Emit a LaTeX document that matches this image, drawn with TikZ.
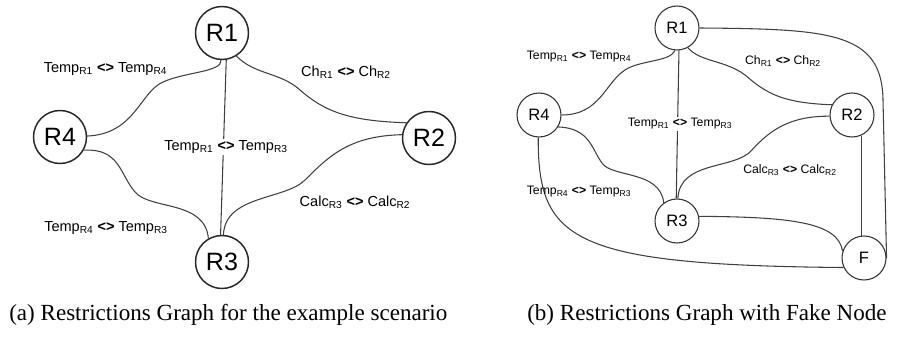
\documentclass[tikz,border=0pt]{standalone}
\usepackage{fontspec}
\setmainfont{Liberation Serif}
\newfontfamily\arialf{Liberation Sans}
\newcommand\lsub[1]{\textsubscript{#1}}
\newcommand\lne{\textbf{<>}}
\begin{document}
\begin{tikzpicture}[x=0.75pt,y=-0.75pt,
  bignode/.style={circle,draw=black!85,line width=1.1pt,fill=white,minimum size=39.75pt,inner sep=0pt,font=\arialf\fontsize{18.8}{20}\selectfont},
  smallnode/.style={circle,draw=black!80,line width=0.8pt,fill=white,minimum size=33pt,inner sep=0pt,font=\arialf\fontsize{12.4}{14}\selectfont},
  edge/.style={draw=black!75,line width=0.8pt},
  biglab/.style={inner sep=1pt,font=\arialf\fontsize{10.9}{12}\selectfont},
  smalllab/.style={inner sep=1pt,font=\arialf\fontsize{9.2}{11}\selectfont},
  captext/.style={inner sep=0pt,font=\fontsize{17.3}{19}\selectfont}]
\useasboundingbox (0,0) rectangle (902,338);
% ---------- (a) ----------
\node[bignode] (a1) at (222,33) {R1};
\node[bignode] (a4) at (60,137) {R4};
\node[bignode] (a2) at (429,138) {R2};
\node[bignode] (a3) at (222,262) {R3};
\path[edge] (a1.-92) .. controls (222,72) and (185,72) .. (163,82)
   .. controls (140,92) and (135,134) .. (a4.2);
\path[edge] (a1.-58) .. controls (255,75) and (280,72) .. (300,90)
   .. controls (325,112) and (350,121) .. (a2.146);
\path[edge] (a1.-81) -- (a3.93);
\path[edge] (a4.-29) .. controls (120,148) and (120,175) .. (135,192)
   .. controls (150,210) and (205,200) .. (a3.120);
\path[edge] (a2.173) .. controls (350,136) and (330,155) .. (305,180)
   .. controls (285,200) and (225,195) .. (a3.87);
\node[biglab] (la1) at (105.5,69) {Temp\lsub{R1} \lne{} Temp\lsub{R4}};
\node[biglab] (la2) at (346,72) {Ch\lsub{R1} \lne{} Ch\lsub{R2}};
\node[biglab,fill=white] (la3) at (226,147) {Temp\lsub{R1} \lne{} Temp\lsub{R3}};
\node[biglab] (la4) at (355,202) {Calc\lsub{R3} \lne{} Calc\lsub{R2}};
\node[biglab] (la5) at (106,228) {Temp\lsub{R4} \lne{} Temp\lsub{R3}};
\node[captext,anchor=west] (capa) at (9,315) {(a) Restrictions Graph for the example scenario};
% ---------- (b) ----------
\node[smallnode] (b1) at (677,28) {R1};
\node[smallnode] (b4) at (539,115) {R4};
\node[smallnode] (b2) at (852,115) {R2};
\node[smallnode] (b3) at (677,221) {R3};
\node[smallnode] (bf) at (864,258) {F};
\path[edge] (b1.-95) .. controls (670,62) and (640,60) .. (625,70)
   .. controls (605,83) and (600,115) .. (b4.0);
\path[edge] (b1.-61) .. controls (700,62) and (725,60) .. (745,75)
   .. controls (765,92) and (780,103) .. (b2.153);
\path[edge] (b1.-85) -- (b3.92);
\path[edge] (b1.0) .. controls (830,29) and (882,32) .. (883,100) -- (bf.0);
\path[edge] (b4.-32) .. controls (590,128) and (592,150) .. (602,163)
   .. controls (612,178) and (660,170) .. (b3.126);
\path[edge] (b4.-92) .. controls (538,240) and (570,265) .. (bf.-155);
\path[edge] (b2.183) .. controls (790,116) and (770,130) .. (752,150)
   .. controls (735,170) and (680,160) .. (b3.88);
\coordinate (b2f) at (bf.98);
\path[edge] (b2.-66) -- (b2.-66 |- b2f);
\path[edge] (b3.12) .. controls (790,217) and (838,222) .. (bf.162);
\node[smalllab] (lb1) at (579,57) {Temp\lsub{R1} \lne{} Temp\lsub{R4}};
\node[smalllab] (lb2) at (783,61) {Ch\lsub{R1} \lne{} Ch\lsub{R2}};
\node[smalllab,fill=white] (lb3) at (680,124) {Temp\lsub{R1} \lne{} Temp\lsub{R3}};
\node[smalllab] (lb4) at (790,170) {Calc\lsub{R3} \lne{} Calc\lsub{R2}};
\node[smalllab] (lb5) at (579,192) {Temp\lsub{R4} \lne{} Temp\lsub{R3}};
\node[captext,anchor=west] (capb) at (527,315) {(b) Restrictions Graph with Fake Node};
\end{tikzpicture}
\end{document}
